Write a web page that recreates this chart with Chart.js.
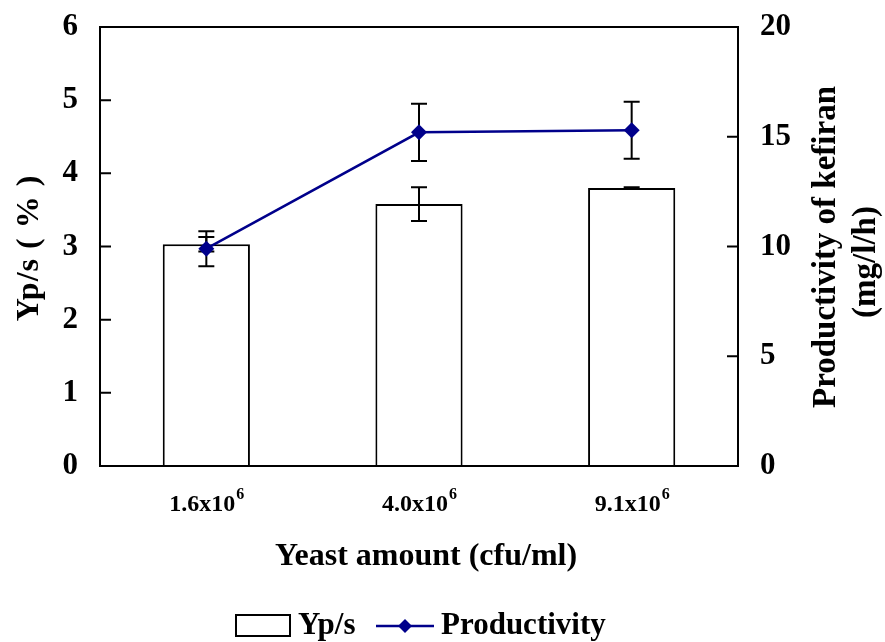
<!DOCTYPE html>
<html>
<head>
<meta charset="utf-8">
<script src="https://cdn.jsdelivr.net/npm/chart.js@4.4.0/dist/chart.umd.min.js"></script>
<style>
  html, body { margin: 0; padding: 0; background: #ffffff; }
  #wrap { width: 885px; height: 642px; }
</style>
</head>
<body>
<div id="wrap"><canvas id="yeastChart"></canvas></div>
<script>
// yeast inoculum, written as mantissa x 10^exponent
const yeastBase = ['1.6', '4.0', '9.1'];
const yeastExp = ['6', '6', '6'];

// Yp/s (%) bars with their error
const ypsValues = [3.03, 3.58, 3.80];
const ypsErrors = [0.10, 0.23, 0.01];

// kefiran productivity (mg/l/h) with its error
const productivity = [9.9, 15.2, 15.3];
const productivityErrors = [0.8, 1.3, 1.3];

const leftTicks = [0, 1, 2, 3, 4, 5, 6];
const rightTicks = [0, 5, 10, 15, 20];

const SERIF = "'Liberation Serif', 'Times New Roman', serif";
const NAVY = '#00008B';

function drawErrorBar(ctx, x, yTop, yBottom, cap) {
  ctx.beginPath();
  ctx.moveTo(x, yTop);
  ctx.lineTo(x, yBottom);
  ctx.moveTo(x - cap, yTop);
  ctx.lineTo(x + cap, yTop);
  ctx.moveTo(x - cap, yBottom);
  ctx.lineTo(x + cap, yBottom);
  ctx.stroke();
}

function rotatedText(ctx, text, x, y, spacing) {
  ctx.save();
  ctx.translate(x, y);
  ctx.rotate(-Math.PI / 2);
  ctx.letterSpacing = spacing + 'px';
  ctx.fillText(text, 0, 0);
  ctx.restore();
}

// value axes keep their labels from pushing the plot area around
function fixAxis(width) {
  return s => {
    s.width = width;
    s.paddingTop = 0;
    s.paddingBottom = 0;
  };
}

const figureExtras = {
  id: 'figureExtras',
  // error bars go on top of the bars but under the productivity line
  beforeDatasetDraw(chart, args) {
    if (args.index !== 0) return;
    const ctx = chart.ctx;
    const x = chart.scales.x, yL = chart.scales.y, yR = chart.scales.y1;
    ctx.save();
    ctx.strokeStyle = '#000';
    ctx.lineWidth = 2;
    ypsValues.forEach((v, i) => {
      const px = x.getPixelForTick(i);
      drawErrorBar(ctx, px, yL.getPixelForValue(v + ypsErrors[i]), yL.getPixelForValue(v - ypsErrors[i]), 8);
    });
    productivity.forEach((v, i) => {
      const px = x.getPixelForTick(i);
      drawErrorBar(ctx, px, yR.getPixelForValue(v + productivityErrors[i]), yR.getPixelForValue(v - productivityErrors[i]), 8);
    });
    ctx.restore();
  },
  afterDraw(chart) {
    const ctx = chart.ctx;
    const a = chart.chartArea;
    const x = chart.scales.x, yL = chart.scales.y, yR = chart.scales.y1;
    ctx.save();

    // plot frame
    ctx.strokeStyle = '#000';
    ctx.lineWidth = 2;
    ctx.strokeRect(a.left, a.top, a.right - a.left, a.bottom - a.top);

    // inward tick marks on both value axes
    ctx.beginPath();
    leftTicks.forEach(v => {
      const py = yL.getPixelForValue(v);
      ctx.moveTo(a.left, py);
      ctx.lineTo(a.left + 11, py);
    });
    rightTicks.forEach(v => {
      const py = yR.getPixelForValue(v);
      ctx.moveTo(a.right, py);
      ctx.lineTo(a.right - 11, py);
    });
    ctx.stroke();

    ctx.fillStyle = '#000';

    // category labels with superscript exponent
    yeastBase.forEach((b, i) => {
      const px = x.getPixelForTick(i);
      ctx.font = 'bold 24px ' + SERIF;
      const wb = ctx.measureText(b + 'x10').width;
      ctx.font = 'bold 16px ' + SERIF;
      const we = ctx.measureText(yeastExp[i]).width;
      const left = px - (wb + we) / 2;
      ctx.textAlign = 'left';
      ctx.textBaseline = 'alphabetic';
      ctx.font = 'bold 24px ' + SERIF;
      ctx.fillText(b + 'x10', left, 511);
      ctx.font = 'bold 16px ' + SERIF;
      ctx.fillText(yeastExp[i], left + wb + 1, 499);
    });

    // axis titles
    ctx.textAlign = 'center';
    ctx.textBaseline = 'middle';
    ctx.font = 'bold 32px ' + SERIF;
    ctx.fillText('Yeast amount (cfu/ml)', 426, 557);

    rotatedText(ctx, 'Yp/s ( % )', 30, 248, 1);
    ctx.font = 'bold 33px ' + SERIF;
    rotatedText(ctx, 'Productivity of kefiran', 826, 247, 0);
    rotatedText(ctx, '(mg/l/h)', 866, 262, 0);

    // legend
    ctx.lineWidth = 2;
    ctx.strokeRect(236, 615, 54, 21);
    ctx.textAlign = 'left';
    ctx.font = 'bold 31px ' + SERIF;
    ctx.fillText('Yp/s', 298, 626);
    ctx.strokeStyle = NAVY;
    ctx.lineWidth = 2.5;
    ctx.beginPath();
    ctx.moveTo(376, 626);
    ctx.lineTo(434, 626);
    ctx.stroke();
    ctx.fillStyle = NAVY;
    ctx.beginPath();
    ctx.moveTo(405, 619);
    ctx.lineTo(412, 626);
    ctx.lineTo(405, 633);
    ctx.lineTo(398, 626);
    ctx.closePath();
    ctx.fill();
    ctx.fillStyle = '#000';
    ctx.fillText('Productivity', 441, 626);

    ctx.restore();
  }
};

const ctx = document.getElementById('yeastChart').getContext('2d');

new Chart(ctx, {
  type: 'bar',
  data: {
    labels: yeastBase.map((b, i) => b + 'x10' + yeastExp[i]),
    datasets: [
      {
        type: 'line',
        label: 'Productivity',
        data: productivity,
        yAxisID: 'y1',
        borderColor: NAVY,
        backgroundColor: NAVY,
        borderWidth: 2.5,
        pointStyle: 'rectRot',
        pointRadius: 8,
        pointHoverRadius: 8,
        pointBorderWidth: 0,
        tension: 0,
        order: 0
      },
      {
        type: 'bar',
        label: 'Yp/s',
        data: ypsValues,
        yAxisID: 'y',
        backgroundColor: '#ffffff',
        borderColor: '#000000',
        borderWidth: 2,
        barPercentage: 0.41,
        categoryPercentage: 1,
        order: 1
      }
    ]
  },
  options: {
    responsive: true,
    maintainAspectRatio: false,
    animation: false,
    layout: { padding: { left: 0, right: 0, top: 27, bottom: 0 } },
    plugins: {
      legend: { display: false },
      tooltip: { enabled: false }
    },
    scales: {
      x: {
        grid: { display: false, drawTicks: false },
        border: { display: false },
        ticks: { display: false },
        afterFit: s => { s.height = 176; }
      },
      y: {
        position: 'left',
        min: 0,
        max: 6,
        grid: { display: false, drawTicks: false },
        border: { display: false },
        afterBuildTicks: s => { s.ticks = leftTicks.map(v => ({ value: v })); },
        ticks: {
          color: '#000',
          padding: 22,
          font: { family: SERIF, size: 31, weight: 'bold' }
        },
        afterFit: fixAxis(100)
      },
      y1: {
        position: 'right',
        min: 0,
        max: 20,
        grid: { display: false, drawTicks: false },
        border: { display: false },
        afterBuildTicks: s => { s.ticks = rightTicks.map(v => ({ value: v })); },
        ticks: {
          color: '#000',
          padding: 22,
          font: { family: SERIF, size: 31, weight: 'bold' }
        },
        afterFit: fixAxis(147)
      }
    }
  },
  plugins: [figureExtras]
});
</script>
</body>
</html>
